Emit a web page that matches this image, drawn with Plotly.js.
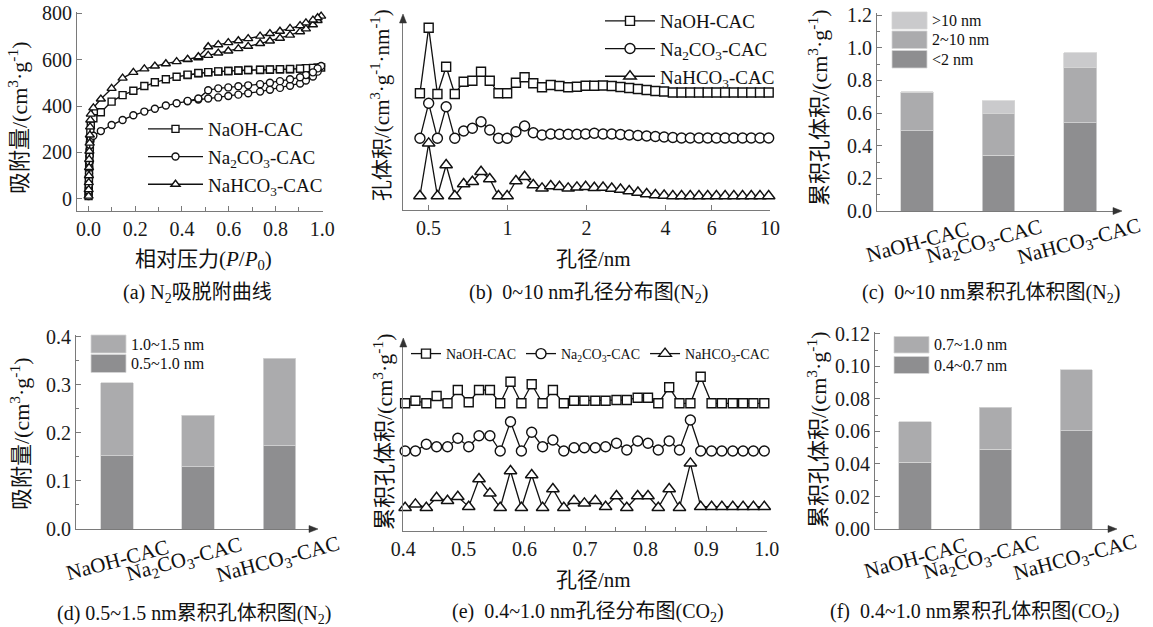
<!DOCTYPE html>
<html><head><meta charset="utf-8">
<script src="https://cdn.plot.ly/plotly-3.0.1.min.js"></script>
<style>html,body{margin:0;padding:0;background:#fff}#chart{width:1153px;height:627px}</style>
</head><body><div id="chart"></div><script>
// ---------- (a) N2 adsorption/desorption isotherms ----------
const a_P_ads = [0.0005,0.001,0.0015,0.002,0.0025,0.003,0.004,0.005,0.006,0.007,0.008,0.01,
  0.021,0.053,0.099,0.146,0.192,0.239,0.284,0.331,0.377,0.424,0.470,0.512,0.555,0.598,0.641,0.683,0.734,0.776,0.819,0.862,0.905,0.93,0.96,0.98,0.995];
const a_P_des = [0.98,0.96,0.93,0.905,0.862,0.819,0.776,0.734,0.683,0.641,0.598,0.555,0.512,0.470,0.424];
const a_NaOH_ads = [12,35,60,85,110,140,170,200,230,260,290,318,
  347,373,419,447,466,486,502,515,526,533,541,545,548,551,552,555,555,556,558,558,560,561,562,564,566];
const a_NaOH_des = [565,564,563,561,559,558,557,556,555,553,551,549,546,542,535];
const a_Na2CO3_ads = [12,35,60,85,110,135,160,185,210,232,250,262,
  272,292,318,340,360,376,388,402,412,420,428,432,437,443,449,455,462,470,478,487,497,510,527,548,572];
const a_Na2CO3_des = [562,545,533,524,515,507,500,494,489,485,480,476,468,432,422];
const a_NaHCO3_ads = [12,40,70,100,135,170,205,240,275,310,340,365,
  392,430,476,520,545,560,572,582,591,600,608,618,628,637,647,657,669,680,692,705,720,732,750,768,787];
const a_NaHCO3_des = [780,770,758,746,734,722,712,701,690,681,673,664,655,612,601];

// ---------- (b) 0~10 nm pore size distribution (N2), offset curves ----------
const b_d = [0.464,0.501,0.541,0.584,0.630,0.681,0.735,0.793,0.856,0.924,0.997,1.077,1.162,1.254,1.354,1.462,1.578,1.703,1.839,1.985,2.142,
  2.312,2.496,2.695,2.909,3.140,3.390,3.660,3.951,4.265,4.603,4.969,5.364,5.790,6.250,6.746,7.282,7.861,8.485,9.159,9.886];
const b_NaOH = [116.7,182.3,116,143.3,116,128.3,129.3,138.3,129.3,116.7,116.7,127.3,132.7,126.7,122.7,125,124,122.7,123.3,124.3,124.3,
  124.5,124,123,122,121,120,119,118.5,117.5,117.5,117.5,117.5,117.5,117.5,117.5,117.5,117.5,117.5,117.5,117.5];
const b_Na2CO3 = [71.7,106.7,71.7,103.3,71.7,79,81.7,88.3,80,71.7,71.7,78.3,84,77.3,75,76,75.7,75.7,75.7,76,76.7,
  76,76,75.5,75,74.5,74,73.5,73,72.5,72,72,72,72,72,72,72,72,72,72,72];
const b_NaHCO3 = [14,66.7,14,45,14,26,28.3,38.3,31,14,14,29,33.3,25,21.7,24,23.3,21.7,22.7,23.3,22.3,
  22.5,21.5,20.5,19,17.5,16,15,14.5,14,14,14,14,14,14,14,14,14,14,14,14];

// ---------- (e) 0.4~1.0 nm pore size distribution (CO2), offset curves ----------
const e_d = [0.403,0.420,0.438,0.455,0.473,0.490,0.508,0.525,0.543,0.560,0.577,0.595,0.612,0.630,0.647,0.665,0.682,0.699,
  0.717,0.734,0.752,0.769,0.787,0.804,0.821,0.839,0.856,0.874,0.891,0.909,0.926,0.944,0.961,0.978,0.996];
const e_NaOH = [127.4,130,127.4,134.7,127.4,140.7,128.4,140.7,140.7,127.4,149,127.4,146.4,127.4,140.7,127.4,130,130,
  130,130,130.7,130.7,133,133,127.4,143.4,127.4,127.4,154,127.4,127.4,127.4,127.4,127.4,127.4];
const e_Na2CO3 = [79.7,79.7,86.4,84,84,92.4,84,95,95,79.7,109,79.7,98.4,84,90.7,79.7,83,83,
  83,84,87.4,80.7,89.7,87.4,80.7,89.7,80.7,110.7,79.7,79.7,79.7,79.7,79.7,79.7,79.7];
const e_NaHCO3 = [23,26.4,23,33,30,34,24,51.7,37.4,23,59.7,23,55.7,23,41.7,23,30,27.4,
  30,24,34.7,23,34.7,34.7,23,41.7,23,67.4,24,24,24,24,24,24,24];

// ---------- bar charts ----------
const categories = ['NaOH-CAC','Na2CO3-CAC','NaHCO3-CAC'];
const catLabels = ['NaOH-CAC','Na<sub>2</sub>CO<sub>3</sub>-CAC','NaHCO<sub>3</sub>-CAC'];
const seriesNames = ['NaOH-CAC','Na<sub>2</sub>CO<sub>3</sub>-CAC','NaHCO<sub>3</sub>-CAC'];
// (c) 0~10 nm cumulative pore volume (N2)
const c_names = ['<2 nm','2~10 nm','>10 nm'];
const c_lt2 = [0.49,0.34,0.54];
const c_2to10 = [0.235,0.255,0.34];
const c_gt10 = [0.006,0.08,0.09];
// (d) 0.5~1.5 nm cumulative pore volume (N2)
const d_names = ['0.5~1.0 nm','1.0~1.5 nm'];
const d_05to10 = [0.152,0.130,0.173];
const d_10to15 = [0.152,0.107,0.182];
// (f) 0.4~1.0 nm cumulative pore volume (CO2)
const f_names = ['0.4~0.7 nm','0.7~1.0 nm'];
const f_04to07 = [0.041,0.049,0.0605];
const f_07to10 = [0.025,0.026,0.0375];

// ---------- drawing ----------
const FONT = '"Liberation Serif", "Times New Roman", "DejaVu Serif", "Noto Sans CJK SC", serif';
const W = 1153, H = 627;
const px = v => v / W;
const py = v => 1 - v / H;
const AX = '#7a7a7a', INK = '#111111';
const C_DARK = '#8e8e90', C_MID = '#ababad', C_LIGHT = '#cacacc';
const esc = s => s.replace(/</g,'&lt;').replace(/>/g,'&gt;');

function axis(extra) {
  return Object.assign({showgrid:false, zeroline:false, showline:true, linecolor:AX, linewidth:1,
    ticks:'inside', tickcolor:AX, ticklen:5, tickwidth:1,
    tickfont:{family:FONT, size:20, color:'#1a1a1a'}, fixedrange:true}, extra);
}
function lineTrace(x, y, name, symbol, size, xa, ya, legend) {
  return {type:'scatter', mode:'lines+markers', x:x, y:y, name:name, xaxis:xa, yaxis:ya, legend:legend,
    line:{color:INK, width:1.3}, cliponaxis:false,
    marker:{symbol:symbol, size:size, color:'#ffffff', line:{color:INK, width:1.4}}};
}
function barTrace(y, color, xa, ya) {
  return {type:'bar', x:categories, y:y, xaxis:xa, yaxis:ya, width:0.4, showlegend:false,
    marker:{color:color, line:{color:'#d6d6d6', width:0.8}}};
}

const traces = [
  lineTrace(a_P_ads.concat(a_P_des), a_NaOH_ads.concat(a_NaOH_des), seriesNames[0], 'square', 7, 'x', 'y', 'legend'),
  lineTrace(a_P_ads.concat(a_P_des), a_Na2CO3_ads.concat(a_Na2CO3_des), seriesNames[1], 'circle', 7, 'x', 'y', 'legend'),
  lineTrace(a_P_ads.concat(a_P_des), a_NaHCO3_ads.concat(a_NaHCO3_des), seriesNames[2], 'triangle-up', 8, 'x', 'y', 'legend'),
  lineTrace(b_d, b_NaOH, seriesNames[0], 'square', 9, 'x2', 'y2', 'legend2'),
  lineTrace(b_d, b_Na2CO3, seriesNames[1], 'circle', 10, 'x2', 'y2', 'legend2'),
  lineTrace(b_d, b_NaHCO3, seriesNames[2], 'triangle-up', 11, 'x2', 'y2', 'legend2'),
  barTrace(c_lt2, C_DARK, 'x3', 'y3'),
  barTrace(c_2to10, C_MID, 'x3', 'y3'),
  barTrace(c_gt10, C_LIGHT, 'x3', 'y3'),
  barTrace(d_05to10, C_DARK, 'x4', 'y4'),
  barTrace(d_10to15, C_MID, 'x4', 'y4'),
  lineTrace(e_d, e_NaOH, seriesNames[0], 'square', 9, 'x5', 'y5', 'legend3'),
  lineTrace(e_d, e_Na2CO3, seriesNames[1], 'circle', 10, 'x5', 'y5', 'legend3'),
  lineTrace(e_d, e_NaHCO3, seriesNames[2], 'triangle-up', 11, 'x5', 'y5', 'legend3'),
  barTrace(f_04to07, C_DARK, 'x6', 'y6'),
  barTrace(f_07to10, C_MID, 'x6', 'y6')
];

const annotations = [];
const shapes = [];
function txt(x, y, text, size, opts) {
  annotations.push(Object.assign({xref:'paper', yref:'paper', x:px(x), y:py(y), text:text, showarrow:false,
    xanchor:'center', yanchor:'middle', font:{family:FONT, size:size, color:'#111'}}, opts || {}));
}
// small filled arrow heads at axis ends (drawn as paper-space shapes)
function arrowUp(x, y) {
  shapes.push({type:'path', xref:'paper', yref:'paper', fillcolor:'#333', line:{color:'#333', width:0.5},
    path:'M' + px(x) + ',' + py(y) + ' L' + px(x - 3.5) + ',' + py(y + 9) + ' L' + px(x + 3.5) + ',' + py(y + 9) + ' Z'});
}
function arrowRight(x, y) {
  shapes.push({type:'path', xref:'paper', yref:'paper', fillcolor:'#333', line:{color:'#333', width:0.5},
    path:'M' + px(x) + ',' + py(y) + ' L' + px(x - 9) + ',' + py(y - 3.5) + ' L' + px(x - 9) + ',' + py(y + 3.5) + ' Z'});
}
// titles
txt(18, 118, '吸附量/(cm<sup>3</sup>·g<sup>-1</sup>)', 22, {textangle:-90});
txt(203, 260, '相对压力(<i>P</i>/<i>P</i><sub>0</sub>)', 21);
txt(197, 293, '(a) N<sub>2</sub>吸脱附曲线', 20);
txt(381, 105, '孔体积/(cm<sup>3</sup>·g<sup>-1</sup>·nm<sup>-1</sup>)', 21, {textangle:-90});
txt(593, 259, '孔径/nm', 21);
txt(588, 293, '(b)  0~10 nm孔径分布图(N<sub>2</sub>)', 20);
txt(818, 108, '累积孔体积/(cm<sup>3</sup>·g<sup>-1</sup>)', 22, {textangle:-90});
txt(991, 293, '(c)  0~10 nm累积孔体积图(N<sub>2</sub>)', 20);
txt(20, 434, '吸附量/(cm<sup>3</sup>·g<sup>-1</sup>)', 22, {textangle:-90});
txt(194, 614, '(d) 0.5~1.5 nm累积孔体积图(N<sub>2</sub>)', 20);
txt(383, 432, '累积孔体积/(cm<sup>3</sup>·g<sup>-1</sup>)', 22, {textangle:-90});
txt(593, 580, '孔径/nm', 21);
txt(588, 612, '(e)  0.4~1.0 nm孔径分布图(CO<sub>2</sub>)', 20);
txt(817, 430, '累积孔体积/(cm<sup>3</sup>·g<sup>-1</sup>)', 22, {textangle:-90});
txt(974, 612, '(f)  0.4~1.0 nm累积孔体积图(CO<sub>2</sub>)', 20);
// axis arrows
arrowUp(403, 14);
arrowUp(403.3, 338);
arrowRight(1122, 211);
arrowRight(318, 529);
arrowRight(1117, 529);
// rotated category labels
const labShift = [0, -14, -1];
[['x3', 242], ['x4', 560], ['x6', 558]].forEach(function (p) {
  categories.forEach(function (c, i) {
    annotations.push({xref:p[0], yref:'paper', x:c, y:py(p[1]), xshift:labShift[i], text:catLabels[i],
      showarrow:false, textangle:-15, xanchor:'center', yanchor:'middle',
      font:{family:FONT, size:21, color:'#111'}});
  });
});
// bar legends (swatch + label)
function barLegend(x0, rows, names, colors, fsize) {
  rows.forEach(function (r, i) {
    shapes.push({type:'rect', xref:'paper', yref:'paper', x0:px(x0), x1:px(x0 + 35), y0:py(r[1]), y1:py(r[0]),
      fillcolor:colors[i], line:{color:'#d6d6d6', width:0.8}});
    txt(x0 + 38, (r[0] + r[1]) / 2, esc(names[i]), fsize, {xanchor:'left'});
  });
}
barLegend(892, [[12, 29], [31, 48.5], [50.5, 68]], [c_names[2], c_names[1], c_names[0]], [C_LIGHT, C_MID, C_DARK], 16);
barLegend(91, [[335, 353], [354.5, 372.5]], [d_names[1], d_names[0]], [C_MID, C_DARK], 16);
barLegend(894, [[336.5, 353], [356.5, 373.5]], [f_names[1], f_names[0]], [C_MID, C_DARK], 16);

const legFont = {family:FONT, size:19, color:'#111'};
const layout = {
  width:W, height:H, margin:{l:0, r:0, t:0, b:0}, paper_bgcolor:'#fff', plot_bgcolor:'rgba(0,0,0,0)',
  barmode:'stack', showlegend:true, font:{family:FONT},
  legend:{x:px(143), y:py(110), xanchor:'left', yanchor:'top', bgcolor:'rgba(0,0,0,0)', font:legFont, itemwidth:55, tracegroupgap:0, traceorder:'normal'},
  legend2:{x:px(600), y:py(2), xanchor:'left', yanchor:'top', bgcolor:'rgba(0,0,0,0)', font:legFont, itemwidth:50, tracegroupgap:0, traceorder:'normal'},
  legend3:{x:px(406), y:py(338), xanchor:'left', yanchor:'top', orientation:'h', bgcolor:'rgba(0,0,0,0)', traceorder:'normal',
    font:{family:FONT, size:14, color:'#111'}, itemwidth:30},
  xaxis: axis({domain:[px(77), px(323)], range:[-0.049, 1.003], anchor:'y', tickvals:[0,0.2,0.4,0.6,0.8,1.0], ticktext:['0.0','0.2','0.4','0.6','0.8','1.0'],
    minor:{dtick:0.1, ticks:'inside', ticklen:4, tickcolor:AX}}),
  yaxis: axis({domain:[py(211), py(11.7)], range:[-52, 806], anchor:'x', tickvals:[0,200,400,600,800]}),
  xaxis2: axis({type:'log', domain:[px(403), px(770)], range:[Math.log10(0.4), 1.0], anchor:'y2', tickvals:[0.5,1,2,4,6,10], ticktext:['0.5','1','2','4','6','10']}),
  yaxis2: axis({domain:[py(210), py(17)], range:[0, 193], anchor:'x2', ticks:'', showticklabels:false}),
  xaxis3: axis({type:'category', domain:[px(877), px(1117)], range:[-0.49, 2.45], anchor:'y3', ticks:'', showticklabels:false}),
  yaxis3: axis({domain:[py(211), py(13.4)], range:[0, 1.21], anchor:'x3', tickvals:[0,0.2,0.4,0.6,0.8,1.0,1.2], ticktext:['0.0','0.2','0.4','0.6','0.8','1.0','1.2'],
    minor:{dtick:0.1, ticks:'inside', ticklen:3, tickcolor:AX}}),
  xaxis4: axis({type:'category', domain:[px(76), px(315)], range:[-0.506, 2.44], anchor:'y4', ticks:'', showticklabels:false}),
  yaxis4: axis({domain:[py(529), py(335)], range:[0, 0.4035], anchor:'x4', tickvals:[0,0.1,0.2,0.3,0.4], ticktext:['0.0','0.1','0.2','0.3','0.4'],
    minor:{dtick:0.05, ticks:'inside', ticklen:3, tickcolor:AX}}),
  xaxis5: axis({domain:[px(403.3), px(766.7)], range:[0.4, 1.0], anchor:'y5', tickvals:[0.4,0.5,0.6,0.7,0.8,0.9,1.0], ticktext:['0.4','0.5','0.6','0.7','0.8','0.9','1.0'],
    minor:{dtick:0.05, ticks:'inside', ticklen:4, tickcolor:AX}}),
  yaxis5: axis({domain:[py(530.7), py(341)], range:[0, 189.7], anchor:'x5', ticks:'', showticklabels:false}),
  xaxis6: axis({type:'category', domain:[px(875), px(1114)], range:[-0.497, 2.47], anchor:'y6', ticks:'', showticklabels:false}),
  yaxis6: axis({domain:[py(529), py(331.7)], range:[0, 0.1214], anchor:'x6', tickvals:[0,0.02,0.04,0.06,0.08,0.10,0.12], ticktext:['0.00','0.02','0.04','0.06','0.08','0.10','0.12'],
    minor:{dtick:0.01, ticks:'inside', ticklen:3, tickcolor:AX}}),
  annotations:annotations, shapes:shapes
};
Plotly.newPlot('chart', traces, layout, {displayModeBar:false, staticPlot:true});
</script></body></html>
